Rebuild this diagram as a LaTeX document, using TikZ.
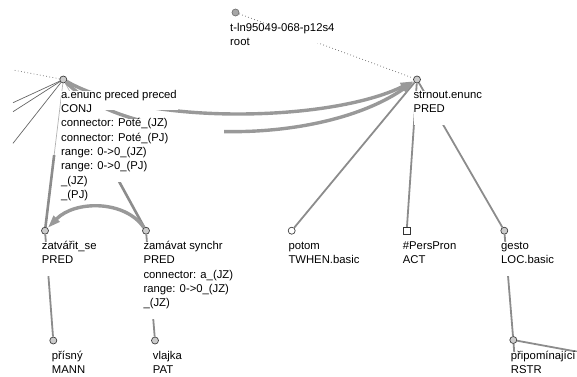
\documentclass[tikz,border=0pt]{standalone}
\usepackage{fontspec}
\setmainfont{Liberation Sans}
\usepackage{tikz}
\usetikzlibrary{arrows.meta,positioning,calc}

\setlength{\fboxsep}{0pt}
\newcommand{\trow}[2][1.5pt]{\smash{\colorbox{white}{\rule[-12pt]{0pt}{19.5pt}\smash{#2}\kern#1}}\rule[-6.8pt]{0pt}{14.3pt}}

\begin{document}
\begin{tikzpicture}[
  x=1pt, y=-1pt,
  tnode/.style={circle, draw=black!75, fill=black!20, line width=0.7pt,
    minimum size=7pt, inner sep=0pt},
  tleaf/.style={tnode, fill=white},
  tgen/.style={rectangle, draw=black!80, fill=white, line width=0.7pt,
    minimum size=7pt, inner sep=0pt},
  lbl/.style={inner sep=0pt, align=left, font=\fontsize{11.3pt}{14.3pt}\selectfont},
  dep/.style={black!45, line width=1.8pt},
  memb/.style={black!45, line width=2.6pt},
  half/.style={black!30, line width=0.7pt},
  far/.style={black!60, line width=0.7pt},
  dots/.style={black!50, line width=0.8pt, dash pattern=on 0.8pt off 2.4pt},
  disc/.style={black!40, line width=3.4pt, -{Triangle[length=13pt,width=8pt]}}
]
  \useasboundingbox (0,0) rectangle (577,376);

  \node[tnode, draw=black!55, fill=black!35] (root) at (235.5,12.5) {};
  \node[tnode] (aenunc) at (63.3,79.5) {};
  \node[tnode] (strnout) at (417,79.5) {};
  \node[tnode] (zatvarit) at (45,230.7) {};
  \node[tnode] (zamavat) at (146,230.7) {};
  \node[tleaf] (potom) at (291.7,230.7) {};
  \node[tgen] (perspron) at (406.7,230.7) {};
  \node[tnode] (gesto) at (504.3,230.7) {};
  \node[tnode] (prisny) at (53.3,340.5) {};
  \node[tnode] (vlajka) at (155,340.5) {};
  \node[tnode] (pripom) at (513.3,340) {};

  \coordinate (prevroot) at (13,70);
  \coordinate (left1) at (13,102.7);
  \coordinate (left2) at (13,111.7);
  \coordinate (left3) at (13,143.3);
  \coordinate (rchild) at (577,351.7);
  \coordinate (dchild) at (516,376);
  \coordinate (mzat) at ($(aenunc)!0.5!(zatvarit)$);
  \coordinate (mzam) at ($(aenunc)!0.5!(zamavat)$);

  \draw[dots] (root) -- (strnout);
  \draw[dots] (aenunc) -- (prevroot);
  \draw[far] (aenunc) -- (left1);
  \draw[far] (aenunc) -- (left2);
  \draw[far] (aenunc) -- (left3);

  \draw[half] (aenunc) -- (mzat);
  \draw[memb] (mzat) -- (zatvarit);
  \draw[half] (aenunc) -- (mzam);
  \draw[memb] (mzam) -- (zamavat);
  \draw[dep] (strnout) -- (potom);
  \draw[dep] (strnout) -- (perspron);
  \draw[dep] (strnout) -- (gesto);
  \draw[dep] (zatvarit) -- (prisny);
  \draw[dep] (zamavat) -- (vlajka);
  \draw[dep] (gesto) -- (pripom);
  \draw[dep] (pripom) -- (rchild);
  \draw[dep] (pripom) -- (dchild);

  \draw[disc] (aenunc) .. controls (145,126) and (330,122) .. (strnout);
  \draw[disc] (aenunc) .. controls (130,147) and (320,147) .. (strnout);

  \node[lbl, below right=11pt and -5.5pt of root.center] (root-l)
    {\trow{t-ln95049-068-p12s4}\\\trow{root}};
  \node[lbl, below right=11pt and -2.3pt of aenunc.center] (aenunc-l)
    {\trow{a.enunc preced preced}\\\trow{CONJ}\\\trow[56pt]{connector: Poté\_(JZ)}\\
     \trow{connector: Poté\_(PJ)}\\\trow{range: 0->0\_(JZ)}\\\trow{range: 0->0\_(PJ)}\\
     \trow{\_(JZ)}\\\trow{\_(PJ)}};
  \node[lbl, below right=11pt and -3.7pt of strnout.center] (strnout-l)
    {\trow{strnout.enunc}\\\trow{PRED}};
  \node[lbl, below right=11pt and -3.3pt of zatvarit.center] (zatvarit-l)
    {\trow{zatvářit\_se}\\\trow{PRED}};
  \node[lbl, below right=11pt and -2.7pt of zamavat.center] (zamavat-l)
    {\trow{zamávat synchr}\\\trow{PRED}\\\trow{connector: a\_(JZ)}\\
     \trow{range: 0->0\_(JZ)}\\\trow{\_(JZ)}};
  \node[lbl, below right=11pt and -3.4pt of potom.center] (potom-l)
    {\trow{potom}\\\trow{TWHEN.basic}};
  \node[lbl, below right=11pt and -4pt of perspron.center] (perspron-l)
    {\trow{\#PersPron}\\\trow{ACT}};
  \node[lbl, below right=11pt and -3.3pt of gesto.center] (gesto-l)
    {\trow{gesto}\\\trow{LOC.basic}};
  \node[lbl, below right=11pt and -1.6pt of prisny.center] (prisny-l)
    {\trow{přísný}\\\trow{MANN}};
  \node[lbl, below right=11pt and -2.3pt of vlajka.center] (vlajka-l)
    {\trow{vlajka}\\\trow{PAT}};
  \node[lbl, below right=11.5pt and -2.6pt of pripom.center] (pripom-l)
    {\trow{připomínající}\\\trow{RSTR}};

  \draw[disc] (zamavat) .. controls (125,200) and (75,200) .. (zatvarit);
\end{tikzpicture}
\end{document}
